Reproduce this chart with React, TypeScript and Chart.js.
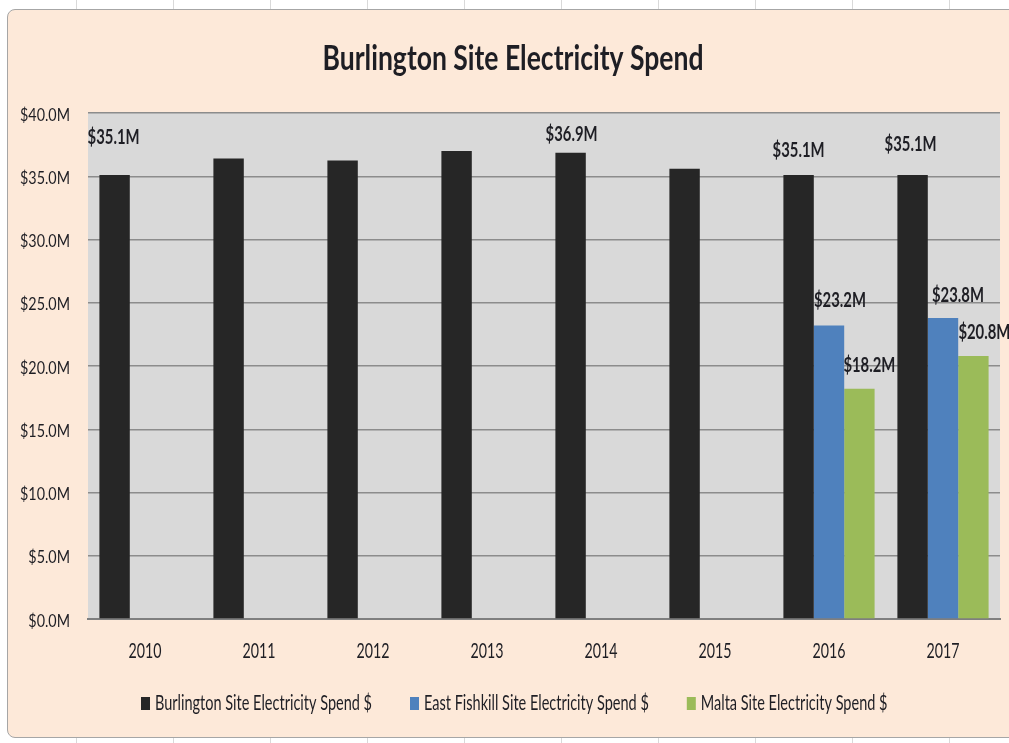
import React, { useEffect, useRef } from "react";
import { Chart, registerables } from "chart.js";

Chart.register(...registerables);

const categories = ["2010", "2011", "2012", "2013", "2014", "2015", "2016", "2017"];
const burlington = [35.1, 36.4, 36.25, 37.0, 36.85, 35.6, 35.1, 35.1];
const eastFishkill = [null, null, null, null, null, null, 23.2, 23.8];
const malta = [null, null, null, null, null, null, 18.2, 20.8];

const burlingtonLabels = ["$35.1M", null, null, null, "$36.9M", null, "$35.1M", "$35.1M"];
const eastFishkillLabels = [null, null, null, null, null, null, "$23.2M", "$23.8M"];
const maltaLabels = [null, null, null, null, null, null, "$18.2M", "$20.8M"];

const yTickValues = [0, 5, 10, 15, 20, 25, 30, 35, 40];

const chartTitle = "Burlington Site Electricity Spend";
const seriesNames = [
  "Burlington Site Electricity Spend $",
  "East Fishkill Site Electricity Spend $",
  "Malta Site Electricity Spend $",
];
const seriesColors = ["#262626", "#4f81bd", "#9bbb59"];

// label placement (dx, distance of label centre above bar top) – style config
const labelOffsets = [
  [[-1, 38], null, null, null, [1, 19], null, [0, 25], [-2, 31]],
  [null, null, null, null, null, null, [11, 26], [15, 23]],
  [null, null, null, null, null, null, [10, 24], [11, 24]],
];

const FONT = "Lato, 'Open Sans', sans-serif";
const TEXT = "#1e1e24";

// text styles: font + a sample string with the width it should take (horizontal condensing)
const STYLE = {
  title: { font: `bold 35px ${FONT}`, sample: "Burlington Site Electricity Spend", width: 381 },
  yTick: { font: `18px ${FONT}`, sample: "$40.0M", width: 50 },
  xTick: { font: `21px ${FONT}`, sample: "2010", width: 33 },
  label: { font: `bold 21px ${FONT}`, sample: "$35.1M", width: 52 },
  legend: { font: `21px ${FONT}`, sample: "Burlington Site Electricity Spend $", width: 217 },
};

function scaleOf(ctx: CanvasRenderingContext2D, st: { font: string; sample: string; width: number }) {
  ctx.font = st.font;
  return st.width / ctx.measureText(st.sample).width;
}

function drawText(
  ctx: CanvasRenderingContext2D,
  text: string,
  x: number,
  y: number,
  sx: number,
  align: CanvasTextAlign
) {
  ctx.save();
  ctx.translate(x, y);
  ctx.scale(sx, 1);
  ctx.textAlign = align;
  ctx.textBaseline = "alphabetic";
  ctx.fillText(text, 0, 0);
  ctx.restore();
}

export default function App() {
  const ref = useRef<HTMLCanvasElement | null>(null);

  useEffect(() => {
    if (!ref.current) return;
    const allLabels = [burlingtonLabels, eastFishkillLabels, maltaLabels];
    const fmt = (v: number) => `$${v.toFixed(1)}M`;

    const plotBg = {
      id: "plotBg",
      beforeDraw(chart: any) {
        const { ctx, chartArea } = chart;
        ctx.save();
        ctx.fillStyle = "#d9d9d9";
        ctx.fillRect(chartArea.left, chartArea.top, chartArea.right - chartArea.left, chartArea.bottom - chartArea.top);
        ctx.restore();
      },
    };

    const extras = {
      id: "extras",
      afterDatasetsDraw(chart: any) {
        const ctx: CanvasRenderingContext2D = chart.ctx;
        ctx.save();
        ctx.fillStyle = TEXT;
        const sx = scaleOf(ctx, STYLE.label);
        ctx.font = STYLE.label.font;
        allLabels.forEach((labs, di) => {
          const meta = chart.getDatasetMeta(di);
          labs.forEach((t, i) => {
            const off = labelOffsets[di][i];
            if (!t || !off) return;
            const el = meta.data[i];
            drawText(ctx, t, el.x + off[0], el.y - off[1] + 7.5, sx, "center");
          });
        });
        ctx.restore();
      },
      afterDraw(chart: any) {
        const ctx: CanvasRenderingContext2D = chart.ctx;
        const xs = chart.scales.x;
        const ys = chart.scales.y;
        ctx.save();
        ctx.fillStyle = TEXT;

        // title
        let sx = scaleOf(ctx, STYLE.title);
        drawText(ctx, chartTitle, 505, 60, sx, "center");

        // y ticks
        sx = scaleOf(ctx, STYLE.yTick);
        yTickValues.forEach((v) => {
          drawText(ctx, fmt(v), ys.left + 62, ys.getPixelForValue(v) + 7.5, sx, "right");
        });

        // x ticks
        sx = scaleOf(ctx, STYLE.xTick);
        categories.forEach((c, i) => {
          drawText(ctx, c, xs.getPixelForTick(i), 648, sx, "center");
        });

        // legend
        sx = scaleOf(ctx, STYLE.legend);
        const boxW = 9, boxH = 13, gap = 5, itemGap = 38;
        const widths = seriesNames.map((n) => ctx.measureText(n).width * sx);
        let x = 133;
        const base = 700;
        seriesNames.forEach((n, i) => {
          ctx.fillStyle = seriesColors[i];
          ctx.fillRect(x, base - boxH, boxW, boxH);
          ctx.fillStyle = TEXT;
          drawText(ctx, n, x + boxW + gap, base, sx, "left");
          x += boxW + gap + widths[i] + itemGap;
        });
        ctx.restore();
      },
    };

    const chart = new Chart(ref.current, {
      type: "bar",
      data: {
        labels: categories,
        datasets: [
          { label: seriesNames[0], data: burlington, backgroundColor: seriesColors[0] },
          { label: seriesNames[1], data: eastFishkill as any, backgroundColor: seriesColors[1] },
          { label: seriesNames[2], data: malta as any, backgroundColor: seriesColors[2] },
        ],
      },
      options: {
        animation: false,
        responsive: false,
        maintainAspectRatio: false,
        layout: { padding: { top: 103, right: 9, bottom: 79, left: 0 } },
        datasets: { bar: { categoryPercentage: 0.8, barPercentage: 1.0 } } as any,
        plugins: {
          legend: { display: false },
          title: { display: false },
          tooltip: { enabled: false },
        },
        scales: {
          x: {
            grid: { display: false, drawTicks: false },
            border: { display: true, color: "#7f7f7f", width: 2 },
            ticks: { display: false },
            afterFit(scale: any) {
              scale.height = 40;
            },
          },
          y: {
            min: 0,
            max: 40,
            grid: { color: "#8c8c8c", lineWidth: 1.5, drawTicks: false },
            border: { display: false },
            ticks: { stepSize: 5, display: false },
            afterFit(scale: any) {
              scale.width = 80;
            },
          },
        },
      },
      plugins: [plotBg, extras],
    });
    return () => chart.destroy();
  }, []);

  return (
    <div
      style={{
        position: "fixed",
        left: 0,
        top: 0,
        width: 1009,
        height: 743,
        background: "#ffffff",
        backgroundImage: "repeating-linear-gradient(to right, transparent 0px, transparent 96px, #d9d9d9 96px, #d9d9d9 97px)",
        backgroundPosition: "-20px 0",
        overflow: "hidden",
      }}
    >
      <div
        style={{
          position: "absolute",
          left: 7,
          top: 9,
          width: 1010,
          height: 727,
          background: "#fde9d9",
          border: "1px solid #a6a6a6",
          borderRadius: 8,
          overflow: "hidden",
        }}
      >
        <canvas ref={ref} width={1001} height={728} style={{ display: "block", width: 1001, height: 728 }} />
      </div>
    </div>
  );
}
